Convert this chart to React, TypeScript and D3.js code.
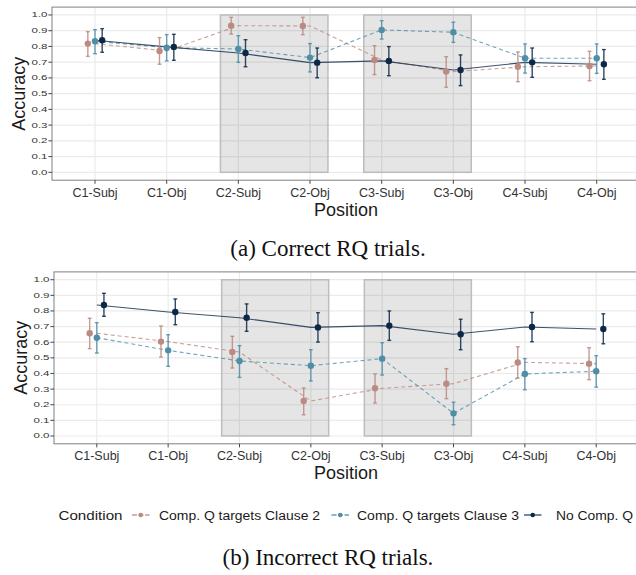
import React from 'react';
import * as d3 from 'd3';

// categories
const positions = ['C1-Subj', 'C1-Obj', 'C2-Subj', 'C2-Obj', 'C3-Subj', 'C3-Obj', 'C4-Subj', 'C4-Obj'];
const conditions = ['Comp. Q targets Clause 2', 'Comp. Q targets Clause 3', 'No Comp. Q'];
const yTicks = [0, 0.1, 0.2, 0.3, 0.4, 0.5, 0.6, 0.7, 0.8, 0.9, 1.0];

// (a) correct RQ trials
const corrClause2Mean = [0.818, 0.771, 0.932, 0.930, 0.714, 0.640, 0.671, 0.676];
const corrClause2Lo = [0.737, 0.687, 0.879, 0.875, 0.621, 0.540, 0.576, 0.582];
const corrClause2Hi = [0.894, 0.856, 0.985, 0.985, 0.805, 0.735, 0.765, 0.769];
const corrClause3Mean = [0.833, 0.792, 0.784, 0.729, 0.905, 0.890, 0.725, 0.725];
const corrClause3Lo = [0.754, 0.708, 0.699, 0.638, 0.847, 0.826, 0.631, 0.629];
const corrClause3Hi = [0.907, 0.875, 0.868, 0.818, 0.964, 0.954, 0.816, 0.816];
const corrNoCompMean = [0.839, 0.797, 0.758, 0.697, 0.708, 0.650, 0.699, 0.687];
const corrNoCompLo = [0.763, 0.712, 0.671, 0.601, 0.614, 0.551, 0.604, 0.591];
const corrNoCompHi = [0.913, 0.877, 0.843, 0.790, 0.799, 0.746, 0.790, 0.780];

// (b) incorrect RQ trials
const incClause2Mean = [0.657, 0.604, 0.537, 0.224, 0.305, 0.335, 0.471, 0.463];
const incClause2Lo = [0.559, 0.505, 0.435, 0.136, 0.211, 0.239, 0.371, 0.360];
const incClause2Hi = [0.753, 0.704, 0.638, 0.307, 0.397, 0.431, 0.571, 0.565];
const incClause3Mean = [0.629, 0.548, 0.480, 0.450, 0.495, 0.145, 0.397, 0.414];
const incClause3Lo = [0.531, 0.446, 0.375, 0.352, 0.390, 0.072, 0.296, 0.313];
const incClause3Hi = [0.725, 0.648, 0.578, 0.552, 0.597, 0.216, 0.495, 0.514];
const incNoCompMean = [0.838, 0.793, 0.757, 0.695, 0.706, 0.651, 0.697, 0.685];
const incNoCompLo = [0.766, 0.712, 0.670, 0.601, 0.612, 0.552, 0.603, 0.590];
const incNoCompHi = [0.913, 0.877, 0.845, 0.789, 0.800, 0.747, 0.791, 0.782];

// shaded clause regions, in category index units (1-based)
const shadeStart = [2.75, 4.75];
const shadeEnd = [4.25, 6.25];

const colors = ['#bb8a80', '#4f8ea6', '#0d2846'];
const dashes = ['4,3', '4,3', null];
const dodge = [-0.1, 0, 0.1];
const sans = 'Liberation Sans, Arial, Helvetica, sans-serif';
const serif = 'Liberation Serif, Times New Roman, serif';

function Panel({ series, left, right, top, bottom, caption, captionY }) {
  // discrete axis with 0.6 expansion on both sides, panel runs off the right edge
  const x = d3.scaleLinear().domain([0.4, 8.6]).range([left, right]);
  const y = d3.scaleLinear().domain([-0.05, 1.05]).range([bottom, top]);
  const line = d3.line().x(d => x(d[0])).y(d => y(d[1]));

  return (
    <g>
      {/* grid */}
      {yTicks.map(t => (
        <line key={'gy' + t} x1={left} x2={right} y1={y(t)} y2={y(t)} stroke="#ebebeb" strokeWidth={1.2} />
      ))}
      {positions.map((p, i) => (
        <line key={'gx' + p} x1={x(i + 1)} x2={x(i + 1)} y1={top} y2={bottom} stroke="#ebebeb" strokeWidth={1.2} />
      ))}

      {/* clause shading */}
      {shadeStart.map((s, i) => (
        <rect key={'sh' + i} x={x(s)} y={y(1)} width={x(shadeEnd[i]) - x(s)} height={y(0) - y(1)}
          fill="#000" fillOpacity={0.1} stroke="#bdbdbd" strokeWidth={1.5} />
      ))}

      {/* lines, not dodged */}
      {series.map((s, k) => (
        <path key={'ln' + k} d={line(s.mean.map((v, i) => [i + 1, v]))} fill="none"
          stroke={colors[k]} strokeOpacity={0.8} strokeWidth={1.1} strokeDasharray={dashes[k] || undefined} />
      ))}

      {/* error bars + points, dodged */}
      {series.map((s, k) => (
        <g key={'pt' + k}>
          {s.mean.map((v, i) => {
            const cx = x(i + 1 + dodge[k]);
            return (
              <g key={i} stroke={colors[k]} strokeOpacity={0.85} strokeWidth={1.4}>
                <line x1={cx} x2={cx} y1={y(s.lo[i])} y2={y(s.hi[i])} />
                <line x1={cx - 1.9} x2={cx + 1.9} y1={y(s.lo[i])} y2={y(s.lo[i])} />
                <line x1={cx - 1.9} x2={cx + 1.9} y1={y(s.hi[i])} y2={y(s.hi[i])} />
                <circle cx={cx} cy={y(v)} r={3.2} fill={colors[k]} stroke="none" />
              </g>
            );
          })}
        </g>
      ))}

      {/* panel border */}
      <rect x={left} y={top} width={right - left} height={bottom - top} fill="none" stroke="#808080" strokeWidth={1} />

      {/* y axis */}
      {yTicks.map(t => (
        <g key={'yt' + t}>
          <line x1={left - 3.6} x2={left} y1={y(t)} y2={y(t)} stroke="#333" strokeWidth={0.9} />
          <text x={left - 20.5} y={y(t) + 2.5} fontSize={7.2} fill="#333" fontFamily={sans}
            textLength={16} lengthAdjust="spacingAndGlyphs">{t.toFixed(1)}</text>
        </g>
      ))}
      <text transform={`translate(${left - 27},${(top + bottom) / 2}) rotate(-90)`} textAnchor="middle"
        fontSize={18} fill="#1a1a1a" fontFamily={sans}>Accuracy</text>

      {/* x axis */}
      {positions.map((p, i) => (
        <g key={'xt' + p}>
          <line x1={x(i + 1)} x2={x(i + 1)} y1={bottom} y2={bottom + 3.6} stroke="#333" strokeWidth={0.9} />
          <text x={x(i + 1)} y={bottom + 16.5} textAnchor="middle" fontSize={12.5} fill="#333" fontFamily={sans}>{p}</text>
        </g>
      ))}
      <text x={346} y={bottom + 35.5} textAnchor="middle" fontSize={18} fill="#1a1a1a" fontFamily={sans}>Position</text>

      <text x={328} y={captionY} textAnchor="middle" fontSize={23} fill="#111" fontFamily={serif}>{caption}</text>
    </g>
  );
}

function Legend() {
  const keyX = [132, 331.5, 524];
  const labelX = [159, 357, 556];
  const labelW = [161, 162, 77];
  const ly = 515;
  return (
    <g fontFamily={sans}>
      <text x={58.5} y={ly + 4.5} fontSize={12.5} fill="#1a1a1a" textLength={64} lengthAdjust="spacingAndGlyphs">Condition</text>
      {conditions.map((c, k) => (
        <g key={c}>
          <line x1={keyX[k]} x2={keyX[k] + 17.5} y1={ly} y2={ly} stroke={colors[k]} strokeOpacity={0.85}
            strokeWidth={1.3} strokeDasharray={dashes[k] ? '5,1.5' : undefined} />
          <circle cx={keyX[k] + 8.75} cy={ly} r={2.3} fill={colors[k]} />
          <text x={labelX[k]} y={ly + 4.5} fontSize={12} fill="#1a1a1a" textLength={labelW[k]}
            lengthAdjust="spacingAndGlyphs">{c}</text>
        </g>
      ))}
    </g>
  );
}

export default function App() {
  const correct = [
    { mean: corrClause2Mean, lo: corrClause2Lo, hi: corrClause2Hi },
    { mean: corrClause3Mean, lo: corrClause3Lo, hi: corrClause3Hi },
    { mean: corrNoCompMean, lo: corrNoCompLo, hi: corrNoCompHi },
  ];
  const incorrect = [
    { mean: incClause2Mean, lo: incClause2Lo, hi: incClause2Hi },
    { mean: incClause3Mean, lo: incClause3Lo, hi: incClause3Hi },
    { mean: incNoCompMean, lo: incNoCompLo, hi: incNoCompHi },
  ];
  return (
    <svg width={636} height={575} style={{ position: 'absolute', left: 0, top: 0, background: '#fff' }}>
      <Panel series={correct} left={52} right={639.7} top={7.1} bottom={180.2}
        caption="(a) Correct RQ trials." captionY={256} />
      <Panel series={incorrect} left={54} right={639} top={271.9} bottom={443.8}
        caption="(b) Incorrect RQ trials." captionY={565} />
      <Legend />
    </svg>
  );
}
